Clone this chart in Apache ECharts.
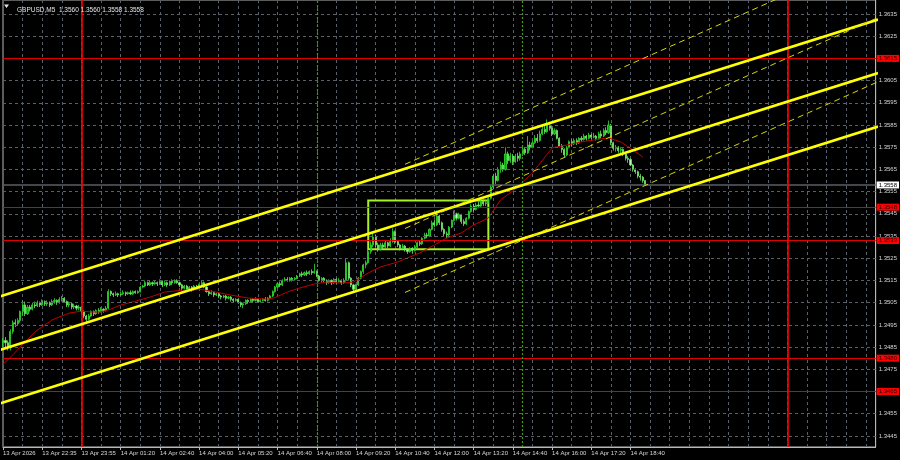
<!DOCTYPE html>
<html><head><meta charset="utf-8">
<script src="https://cdn.jsdelivr.net/npm/echarts@6.0.0/dist/echarts.min.js"></script>
<style>html,body{margin:0;padding:0;background:#000;}#c{width:900px;height:460px;}</style>
</head><body><div id="c"></div>
<script>
const symbol = 'GBPUSD,M5';
const timeLabels = ['13 Apr 2026','13 Apr 22:35','13 Apr 23:55','14 Apr 01:20','14 Apr 02:40','14 Apr 04:00','14 Apr 05:20','14 Apr 06:40','14 Apr 08:00','14 Apr 09:20','14 Apr 10:40','14 Apr 12:00','14 Apr 13:20','14 Apr 14:40','14 Apr 16:00','14 Apr 17:20','14 Apr 18:40'];
const priceTicks = [1.3445,1.3455,1.3465,1.3475,1.3485,1.3495,1.3505,1.3515,1.3525,1.3535,1.3545,1.3555,1.3565,1.3575,1.3585,1.3595,1.3605,1.3615,1.3625,1.3635];

const opens = [
1.3487,1.3488,1.3487,1.3485,1.3492,1.3496,1.34955,1.3497,1.3501,1.3504,
1.35,1.3503,1.3502,1.3504,1.35035,1.3505,1.3504,1.35055,1.35045,1.3505,
1.3504,1.35055,1.3506,1.3505,1.35065,1.3507,1.35055,1.3504,1.35045,1.3503,
1.35035,1.35025,1.3503,1.3501,1.3499,1.34975,1.3499,1.3501,1.35,1.35015,
1.3501,1.3502,1.35015,1.35025,1.351,1.3509,1.35085,1.3509,1.35085,1.3509,
1.35095,1.3509,1.35095,1.3509,1.351,1.35095,1.351,1.3512,1.35125,1.3514,
1.3513,1.3514,1.35135,1.3514,1.35135,1.35145,1.3513,1.3514,1.3513,1.35145,
1.3514,1.3515,1.3514,1.3513,1.35115,1.35125,1.3511,1.3512,1.3511,1.35125,
1.3512,1.3513,1.3514,1.3512,1.351,1.3509,1.35095,1.35085,1.3509,1.3508,
1.35075,1.3508,1.3507,1.35075,1.35065,1.3506,1.35065,1.3505,1.3504,1.35045,
1.3506,1.35055,1.35065,1.3506,1.35065,1.35055,1.3506,1.35065,1.3506,1.3507,
1.3508,1.351,1.3512,1.35135,1.3513,1.3515,1.35155,1.3515,1.3516,1.35155,
1.3516,1.3517,1.3518,1.35175,1.35185,1.3518,1.3519,1.35185,1.3519,1.3517,
1.3515,1.3516,1.3515,1.3514,1.3515,1.3514,1.35155,1.35145,1.3515,1.3514,
1.3515,1.3523,1.3516,1.3513,1.3511,1.3513,1.3516,1.3519,1.3522,1.3523,
1.3528,1.3531,1.35345,1.3531,1.3529,1.3531,1.353,1.3532,1.35305,1.35325,
1.3537,1.35325,1.3531,1.35295,1.35305,1.3529,1.3528,1.35295,1.35285,1.353,
1.3532,1.35315,1.3534,1.35355,1.3535,1.3538,1.3541,1.354,1.3544,1.3541,
1.3538,1.3536,1.35355,1.3539,1.3542,1.3545,1.3543,1.35445,1.35415,1.35405,
1.3543,1.3546,1.35485,1.3547,1.3549,1.35485,1.35505,1.35495,1.355,1.3552,
1.3557,1.3562,1.356,1.3565,1.3567,1.3565,1.3572,1.3569,1.3571,1.35685,
1.3571,1.357,1.3572,1.3574,1.35725,1.3576,1.3575,1.3577,1.3579,1.3578,
1.3581,1.3583,1.3582,1.3585,1.35835,1.3581,1.35825,1.3579,1.35755,1.3574,
1.35715,1.3575,1.35775,1.35765,1.3578,1.3577,1.3579,1.35785,1.358,1.3579,
1.35805,1.35795,1.358,1.3579,1.3581,1.358,1.35825,1.35815,1.3585,1.3577,
1.35745,1.3575,1.35735,1.3574,1.3572,1.357,1.35695,1.3567,1.3565,1.3564,
1.3562,1.35615,1.356];
const closes = [
1.3488,1.3487,1.3485,1.3492,1.3496,1.34955,1.3497,1.3501,1.3504,1.35,
1.3503,1.3502,1.3504,1.35035,1.3505,1.3504,1.35055,1.35045,1.3505,1.3504,
1.35055,1.3506,1.3505,1.35065,1.3507,1.35055,1.3504,1.35045,1.3503,1.35035,
1.35025,1.3503,1.3501,1.3499,1.34975,1.3499,1.3501,1.35,1.35015,1.3501,
1.3502,1.35015,1.35025,1.351,1.3509,1.35085,1.3509,1.35085,1.3509,1.35095,
1.3509,1.35095,1.3509,1.351,1.35095,1.351,1.3512,1.35125,1.3514,1.3513,
1.3514,1.35135,1.3514,1.35135,1.35145,1.3513,1.3514,1.3513,1.35145,1.3514,
1.3515,1.3514,1.3513,1.35115,1.35125,1.3511,1.3512,1.3511,1.35125,1.3512,
1.3513,1.3514,1.3512,1.351,1.3509,1.35095,1.35085,1.3509,1.3508,1.35075,
1.3508,1.3507,1.35075,1.35065,1.3506,1.35065,1.3505,1.3504,1.35045,1.3506,
1.35055,1.35065,1.3506,1.35065,1.35055,1.3506,1.35065,1.3506,1.3507,1.3508,
1.351,1.3512,1.35135,1.3513,1.3515,1.35155,1.3515,1.3516,1.35155,1.3516,
1.3517,1.3518,1.35175,1.35185,1.3518,1.3519,1.35185,1.3519,1.3517,1.3515,
1.3516,1.3515,1.3514,1.3515,1.3514,1.35155,1.35145,1.3515,1.3514,1.3515,
1.3523,1.3516,1.3513,1.3511,1.3513,1.3516,1.3519,1.3522,1.3523,1.3528,
1.3531,1.35345,1.3531,1.3529,1.3531,1.353,1.3532,1.35305,1.35325,1.3537,
1.35325,1.3531,1.35295,1.35305,1.3529,1.3528,1.35295,1.35285,1.353,1.3532,
1.35315,1.3534,1.35355,1.3535,1.3538,1.3541,1.354,1.3544,1.3541,1.3538,
1.3536,1.35355,1.3539,1.3542,1.3545,1.3543,1.35445,1.35415,1.35405,1.3543,
1.3546,1.35485,1.3547,1.3549,1.35485,1.35505,1.35495,1.355,1.3552,1.3557,
1.3562,1.356,1.3565,1.3567,1.3565,1.3572,1.3569,1.3571,1.35685,1.3571,
1.357,1.3572,1.3574,1.35725,1.3576,1.3575,1.3577,1.3579,1.3578,1.3581,
1.3583,1.3582,1.3585,1.35835,1.3581,1.35825,1.3579,1.35755,1.3574,1.35715,
1.3575,1.35775,1.35765,1.3578,1.3577,1.3579,1.35785,1.358,1.3579,1.35805,
1.35795,1.358,1.3579,1.3581,1.358,1.35825,1.35815,1.3585,1.3577,1.35745,
1.3575,1.35735,1.3574,1.3572,1.357,1.35695,1.3567,1.3565,1.3564,1.3562,
1.35615,1.356,1.3558];
const lows = [
1.3485,1.3485,1.34835,1.34835,1.3491,1.3494,1.34945,1.3496,1.3499,1.3499,
1.34995,1.3501,1.35015,1.35025,1.3503,1.3503,1.35035,1.35035,1.35035,1.3503,
1.35035,1.35045,1.3504,1.35045,1.35055,1.3505,1.3503,1.3503,1.3502,1.3502,
1.35015,1.35015,1.35,1.3498,1.34965,1.3497,1.34985,1.3499,1.34995,1.35,
1.35005,1.35005,1.3501,1.3502,1.3508,1.35075,1.3508,1.35075,1.3508,1.35085,
1.3508,1.35085,1.35085,1.35085,1.3509,1.3509,1.35095,1.35115,1.3512,1.35125,
1.35125,1.35125,1.3513,1.35125,1.3513,1.3512,1.35125,1.3512,1.35125,1.3513,
1.35135,1.35135,1.3512,1.35105,1.3511,1.351,1.35105,1.351,1.35105,1.3511,
1.35115,1.35125,1.35115,1.35095,1.3508,1.35085,1.35075,1.3508,1.3507,1.35065,
1.3507,1.3506,1.35065,1.35055,1.3505,1.35055,1.35045,1.3503,1.35025,1.3504,
1.35045,1.3505,1.3505,1.35055,1.3505,1.3505,1.35055,1.35055,1.35055,1.35065,
1.35075,1.35095,1.35115,1.3512,1.35125,1.35145,1.35145,1.35145,1.35145,1.3515,
1.35155,1.35165,1.35165,1.3517,1.3517,1.35175,1.35175,1.3518,1.35165,1.35145,
1.3514,1.3514,1.3513,1.35135,1.3513,1.35135,1.35135,1.3514,1.3513,1.35135,
1.35145,1.3515,1.3512,1.351,1.35105,1.35125,1.35155,1.3518,1.35205,1.35225,
1.3527,1.353,1.353,1.3528,1.35285,1.3529,1.35295,1.35295,1.353,1.3532,
1.35315,1.353,1.35285,1.3529,1.3528,1.3527,1.35275,1.3527,1.3528,1.35295,
1.35305,1.3531,1.35335,1.3534,1.35345,1.35375,1.3539,1.35395,1.354,1.3537,
1.3535,1.3534,1.3535,1.35385,1.35415,1.3542,1.35425,1.35405,1.35395,1.354,
1.35425,1.35455,1.3546,1.35465,1.35475,1.3548,1.35485,1.35485,1.35495,1.35515,
1.3556,1.35585,1.35595,1.35635,1.3564,1.35645,1.35675,1.3568,1.3567,1.3568,
1.35685,1.3569,1.3571,1.35715,1.3572,1.35735,1.35745,1.35765,1.3577,1.35775,
1.35805,1.3581,1.35815,1.35825,1.358,1.35805,1.35785,1.3575,1.35725,1.35705,
1.3571,1.35745,1.35755,1.3576,1.3576,1.35765,1.35775,1.3578,1.3578,1.35785,
1.35785,1.3579,1.3578,1.35785,1.3579,1.35795,1.35805,1.3581,1.3576,1.35735,
1.3573,1.35725,1.3572,1.3571,1.3569,1.3568,1.35665,1.3564,1.3563,1.3561,
1.356,1.3559,1.3558];
const highs = [
1.3489,1.34895,1.3488,1.3493,1.3497,1.34975,1.3498,1.35015,1.3506,1.35055,
1.3504,1.3504,1.3505,1.35055,1.3506,1.35055,1.35065,1.3506,1.3506,1.35055,
1.35065,1.3507,1.35065,1.35075,1.3508,1.35075,1.3506,1.35055,1.3505,1.35045,
1.3504,1.3504,1.35035,1.35015,1.34995,1.35,1.35015,1.35015,1.3502,1.35025,
1.3503,1.35025,1.35035,1.3511,1.35105,1.35095,1.351,1.35095,1.351,1.35105,
1.351,1.351,1.35105,1.35105,1.35105,1.35105,1.35125,1.3513,1.3515,1.35145,
1.3515,1.35145,1.3515,1.35145,1.35155,1.3515,1.3515,1.35145,1.3515,1.35155,
1.35155,1.35155,1.35145,1.35135,1.3513,1.3513,1.35125,1.35125,1.3513,1.3513,
1.35135,1.3515,1.35145,1.35125,1.35105,1.35105,1.351,1.35095,1.35095,1.35085,
1.35085,1.35085,1.3508,1.3508,1.3507,1.3507,1.3507,1.35055,1.3505,1.35065,
1.35065,1.3507,1.3507,1.35075,1.3507,1.35065,1.3507,1.35075,1.35075,1.35085,
1.35105,1.35125,1.3514,1.35145,1.35155,1.35165,1.35165,1.35165,1.35165,1.35165,
1.35175,1.35185,1.3519,1.3519,1.35195,1.35195,1.352,1.35225,1.35195,1.35175,
1.35165,1.35165,1.35155,1.35155,1.35155,1.3516,1.3516,1.3516,1.35155,1.3516,
1.3525,1.35235,1.35165,1.35135,1.35135,1.35165,1.35195,1.35225,1.3524,1.3529,
1.35325,1.35365,1.35355,1.3532,1.3532,1.3532,1.3533,1.35325,1.3534,1.35385,
1.35375,1.3533,1.35315,1.35315,1.3531,1.35295,1.353,1.353,1.3531,1.35325,
1.3533,1.35345,1.35365,1.35365,1.35385,1.3542,1.35425,1.35465,1.35445,1.35415,
1.35385,1.3537,1.35395,1.35425,1.35465,1.35455,1.35455,1.3545,1.35425,1.35435,
1.35465,1.35495,1.35495,1.355,1.35505,1.35515,1.35515,1.35515,1.35525,1.3558,
1.3563,1.35635,1.3566,1.35685,1.3568,1.3575,1.3573,1.35725,1.3572,1.3572,
1.35725,1.3573,1.35755,1.3575,1.358,1.35775,1.3578,1.35805,1.3581,1.35825,
1.35845,1.3585,1.35875,1.35865,1.35845,1.35835,1.3583,1.35795,1.35765,1.35745,
1.35755,1.3578,1.35785,1.3579,1.3579,1.35795,1.358,1.3581,1.35805,1.35815,
1.3581,1.35815,1.35805,1.3582,1.35825,1.35835,1.3584,1.3587,1.35855,1.35775,
1.3576,1.35755,1.3575,1.35745,1.35725,1.3571,1.357,1.35675,1.35655,1.35645,
1.3563,1.3562,1.356];

// moving average read at selected bars
const maBars = [0,2,7,13,20,27,32,36,40,44,48,54,60,66,74,81,85,93,100,108,111,116,121,127,132,138,143,149,154,161,166,170,176,181,187,192,198,203,208,216,224,230,236,241,247,252,257,261];
const maValues = [1.34774,1.34792,1.3485,1.34918,1.34972,1.35003,1.35012,1.35008,1.35008,1.35021,1.35039,1.35057,1.35075,1.35098,1.35107,1.35109,1.35102,1.35084,1.35071,1.35066,1.35073,1.35098,1.35116,1.35134,1.35143,1.35138,1.35143,1.35184,1.35211,1.35233,1.35256,1.35274,1.3531,1.35341,1.35364,1.354,1.35431,1.35513,1.35553,1.35634,1.35747,1.3576,1.35774,1.35783,1.35792,1.35774,1.35738,1.35706];

const levelLines = [1.3615, 1.3548, 1.3533, 1.3480, 1.3465];
const daySeparatorBars = [32, 320];
const sessionBars = [128, 212];
const channelBars = [-1, 357];
const channelUpper = [1.35079, 1.36325];
const channelMiddle = [1.34838, 1.36084];
const channelLower = [1.34597, 1.35843];
const dashBars = [164, 357];
const dashUpper = [1.35673, 1.3662];
const dashMiddle = [1.35384, 1.36334];
const dashLower = [1.35096, 1.36045];
const boxBars = [149, 198];
const boxPrices = [1.3551, 1.3529];

const SLOTS = 357;
const slots = Array.from({length: SLOTS}, (_, i) => String(i));
const FONT = 'Liberation Sans';
const last = closes.length - 1;
const titleText = symbol + '  ' + [opens[last], highs[last], lows[last], closes[last]].map(v => v.toFixed(4)).join(' ');

const candleData = opens.map((o, i) => [o, closes[i], lows[i], highs[i]]);
const pair = (bars, vals) => bars.map((b, i) => [b, vals[i]]);

const chart = echarts.init(document.getElementById('c'), null, {renderer: 'canvas'});
const yellowSolid = {color: '#ffff00', width: 2.6};
const yellowDash = {color: '#d8d800', width: 1, type: [6, 4]};
function lineSeries(name, data, style, z) {
  return {name, type: 'line', data, showSymbol: false, symbol: 'none', silent: true,
          clip: true, lineStyle: style, z, animation: false};
}
const GRID_COLOR = '#59606a';

const option = {
  backgroundColor: '#000000',
  animation: false,
  title: {text: titleText, left: 12, top: 2,
    textStyle: {color: '#e6e6e6', fontSize: 6.5, fontWeight: 'normal', fontFamily: FONT}},
  graphic: [{type: 'polygon', shape: {points: [[4, 4.5], [9, 4.5], [6.5, 8]]}, style: {fill: '#e6e6e6'}}],
  grid: {left: 2, right: 24, top: 0, bottom: 13, show: true, borderColor: '#b8b8b8', borderWidth: 1, backgroundColor: '#000'},
  xAxis: {
    type: 'category', data: slots, boundaryGap: false,
    axisLine: {lineStyle: {color: '#b8b8b8', width: 1}},
    axisTick: {show: true, length: 3, interval: (i) => i % 16 === 0 && i <= 256, lineStyle: {color: '#b8b8b8'}},
    axisLabel: {interval: (i) => i % 16 === 0 && i <= 256,
      formatter: (v, i) => timeLabels[i / 16] || '',
      align: 'left', margin: 3, color: '#d8d8d8', fontSize: 6, fontFamily: FONT},
    splitLine: {show: true, interval: 7, lineStyle: {color: GRID_COLOR, width: 1, type: [3, 3]}}
  },
  yAxis: {
    type: 'value', position: 'right', min: 1.3440, max: 1.36413, scale: true,
    axisLine: {show: true, lineStyle: {color: '#b8b8b8'}},
    axisTick: {show: false},
    axisLabel: {customValues: priceTicks, formatter: (v) => v.toFixed(4), margin: 3,
      color: '#d8d8d8', fontSize: 6, fontFamily: FONT},
    splitLine: {show: false}
  },
  series: [
    // horizontal grid at tick prices
    Object.assign(lineSeries('grid', [[0, priceTicks[0]]], {width: 0}, 1), {
      markLine: {silent: true, symbol: ['none', 'none'], animation: false, precision: 5, label: {show: false},
        lineStyle: {color: GRID_COLOR, width: 1, type: [3, 3]},
        data: priceTicks.map(v => ({yAxis: v}))}
    }),
    {
      name: symbol, type: 'candlestick', data: candleData, barWidth: 1.6, z: 2, clip: true,
      itemStyle: {color: '#10a010', color0: '#c0f8bc', borderColor: '#2fe02f', borderColor0: '#6fe86a', borderWidth: 0.8}
    },
    lineSeries('MA', pair(maBars, maValues), {color: '#c00000', width: 1}, 3),
    // levels, separators, current price
    Object.assign(lineSeries('levels', [[0, closes[last]]], {width: 0}, 4), {
      markLine: {silent: true, symbol: ['none', 'none'], animation: false, precision: 5,
        data: [
          ...levelLines.map(v => ({yAxis: v, lineStyle: {color: '#e00000', width: 1, type: 'solid'},
            label: {show: true, position: 'end', distance: 1, formatter: v.toFixed(4), backgroundColor: '#ff0000',
              color: '#200000', fontSize: 6, fontFamily: FONT, padding: [1, 2, 0, 2]}})),
          {yAxis: closes[last], lineStyle: {color: '#5a5f66', width: 1.5, type: 'solid'},
            label: {show: true, position: 'end', distance: 1, formatter: closes[last].toFixed(4), backgroundColor: '#ffffff',
              color: '#000', fontSize: 6, fontFamily: FONT, padding: [1, 2, 0, 2]}},
          ...daySeparatorBars.map(b => ({xAxis: b, lineStyle: {color: '#ff0000', width: 1.6, type: 'solid'}, label: {show: false}})),
          ...sessionBars.map(b => ({xAxis: b, lineStyle: {color: '#3f9a10', width: 1.2, type: [2, 2]}, label: {show: false}}))
        ]}
    }),
    lineSeries('channel upper', pair(channelBars, channelUpper), yellowSolid, 5),
    lineSeries('channel middle', pair(channelBars, channelMiddle), yellowSolid, 5),
    lineSeries('channel lower', pair(channelBars, channelLower), yellowSolid, 5),
    lineSeries('dash upper', pair(dashBars, dashUpper), yellowDash, 5),
    lineSeries('dash middle', pair(dashBars, dashMiddle), yellowDash, 5),
    lineSeries('dash lower', pair(dashBars, dashLower), yellowDash, 5),
    Object.assign(lineSeries('box', [[0, null]], {width: 0}, 6), {
      markArea: {silent: true, animation: false,
        itemStyle: {color: 'rgba(0,0,0,0)', borderColor: '#a8f020', borderWidth: 2},
        data: [[{xAxis: boxBars[0], yAxis: boxPrices[0]}, {xAxis: boxBars[1], yAxis: boxPrices[1]}]]}
    })
  ]
};
chart.setOption(option);
</script>
</body></html>
